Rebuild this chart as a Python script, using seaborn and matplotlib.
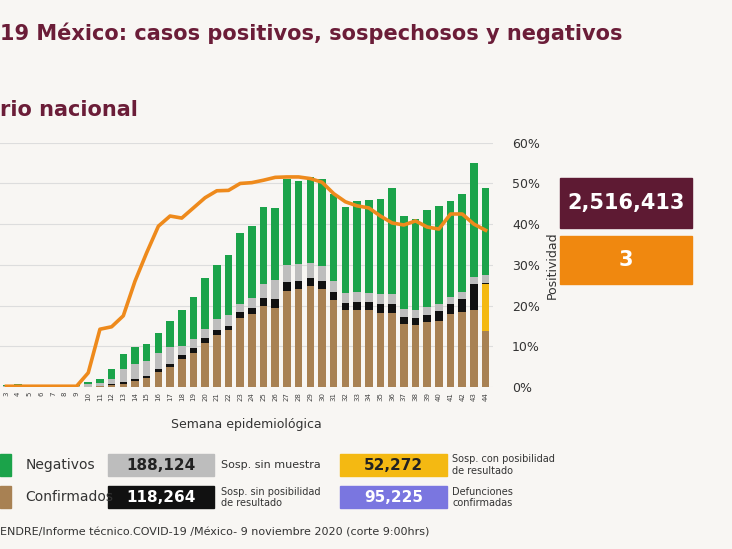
import numpy as np
import pandas as pd
import matplotlib
matplotlib.use("Agg")
import matplotlib.pyplot as plt
import seaborn as sns
from matplotlib.patches import Rectangle

# semanas epidemiologicas (cumulative stack tops, same scale as the % axis)
weeks = list(range(3, 45))
confirmados = [0.1]*7 + [0.1, 0.2, 0.5, 0.8, 1.5, 2.3, 3.7, 5.0, 6.8, 8.4, 10.9, 12.9, 13.9, 17.0,
               17.9, 19.9, 19.5, 23.6, 24.0, 24.7, 24.0, 21.3, 18.9, 19.0, 18.9, 18.2, 18.3, 15.6,
               15.2, 15.9, 16.2, 17.9, 18.5, 19.0, 13.8]
sosp_posib = [0.1]*7 + [0.1, 0.2, 0.5, 0.8, 1.5, 2.3, 3.7, 5.0, 6.8, 8.4, 10.9, 12.9, 13.9, 17.0,
              17.9, 19.9, 19.5, 23.6, 24.0, 24.7, 24.0, 21.3, 18.9, 19.0, 18.9, 18.2, 18.3, 15.6,
              15.2, 15.9, 16.2, 17.9, 18.5, 19.0, 25.2]
sin_posib = [0.1]*7 + [0.1, 0.3, 0.8, 1.2, 2.0, 2.8, 4.4, 5.7, 7.8, 9.5, 12.0, 13.9, 14.9, 18.5,
             19.4, 21.9, 21.7, 25.7, 26.0, 26.7, 26.0, 23.4, 20.7, 20.8, 20.8, 20.3, 20.4, 17.2,
             17.0, 17.7, 18.6, 20.5, 21.6, 25.3, 25.6]
sin_muestra = [0.2]*7 + [0.8, 1.0, 2.0, 4.4, 5.6, 6.3, 8.3, 9.8, 10.0, 11.7, 14.3, 16.6, 17.6, 20.4,
               21.8, 25.4, 26.3, 30.0, 30.2, 30.5, 29.7, 26.1, 23.2, 23.4, 23.2, 22.8, 22.9, 19.1,
               18.9, 19.6, 20.3, 22.2, 23.3, 27.0, 27.4]
negativos = [0.6, 0.7, 0.6, 0.6, 0.6, 0.6, 0.6, 1.2, 2.0, 4.4, 8.1, 9.9, 10.5, 13.3, 16.3, 19.0,
             22.1, 26.8, 30.0, 32.4, 37.8, 39.5, 44.2, 43.9, 51.0, 50.7, 51.5, 51.2, 47.5, 44.2,
             45.7, 46.0, 46.2, 48.9, 41.9, 41.3, 43.6, 44.5, 45.6, 47.5, 55.0, 49.0]
positividad = [0.2]*7 + [3.5, 14.2, 14.8, 17.5, 26, 33, 39.5, 42, 41.5, 44, 46.5, 48.2, 48.3, 50,
               50.2, 50.8, 51.5, 51.6, 51.6, 51.2, 50.3, 47.5, 45.5, 44.5, 44, 42, 40.3, 39.8,
               40.8, 39.3, 38.8, 42.5, 42.5, 40, 38.5]

df = pd.DataFrame({"semana": [str(w) for w in weeks], "neg": negativos, "sm": sin_muestra,
                   "sp": sin_posib, "yp": sosp_posib, "conf": confirmados, "pos": positividad})

bg = "#f8f6f3"
maroon = "#6b1d38"
fig = plt.figure(figsize=(7.32, 5.49), dpi=100, facecolor=bg)
ax = fig.add_axes([0.0, 0.295, 0.673, 0.445], facecolor=bg)

layers = [("neg", "#1ba34a"), ("sm", "#bdbdbd"), ("sp", "#111111"), ("yp", "#f4b912"), ("conf", "#a88153")]
for col, c in layers:
    sns.barplot(data=df, x="semana", y=col, color=c, width=0.65, saturation=1, ax=ax)
sns.lineplot(x=np.arange(len(weeks)), y=df["pos"], color="#ee8a1c", linewidth=2.6, ax=ax)

ax.set_xlim(-0.55, len(weeks) - 0.4)
ax.set_ylim(0, 60)
ax.yaxis.tick_right()
ax.yaxis.set_label_position("right")
ax.set_yticks(range(0, 61, 10))
ax.set_yticklabels([f"{v}%" for v in range(0, 61, 10)], fontsize=9, color="#333333")
ax.set_ylabel("Positividad", fontsize=9, color="#333333", labelpad=4)
ax.tick_params(axis="x", labelsize=5, rotation=90, length=0, colors="#444444")
ax.tick_params(axis="y", length=0, pad=14)
ax.set_xlabel("Semana epidemiológica", fontsize=9, color="#333333", labelpad=12)
ax.grid(axis="y", color="#dddddd", linewidth=0.8)
ax.set_axisbelow(True)
for s in ax.spines.values():
    s.set_visible(False)

fig.text(0.0, 0.94, "19 México: casos positivos, sospechosos y negativos", fontsize=15,
         fontweight="bold", color=maroon, va="center")
fig.text(0.0, 0.80, "rio nacional", fontsize=15, fontweight="bold", color=maroon, va="center")

# right side boxes
fig.patches.append(Rectangle((0.765, 0.585), 0.18, 0.09, transform=fig.transFigure, color="#5e1a33"))
fig.text(0.855, 0.63, "2,516,413", fontsize=15, fontweight="bold", color="white", ha="center", va="center")
fig.patches.append(Rectangle((0.765, 0.482), 0.18, 0.088, transform=fig.transFigure, color="#f0880f"))
fig.text(0.855, 0.526, "3", fontsize=15, fontweight="bold", color="white", ha="center", va="center")

# legend
def box(x, y, w, color, txt, tc):
    fig.patches.append(Rectangle((x, y - 0.02), w, 0.04, transform=fig.transFigure, color=color))
    fig.text(x + w / 2, y, txt, fontsize=11, fontweight="bold", color=tc, ha="center", va="center")

fig.patches.append(Rectangle((0.0, 0.133), 0.015, 0.04, transform=fig.transFigure, color="#1ba34a"))
fig.text(0.035, 0.153, "Negativos", fontsize=10, color="#333333", va="center")
fig.patches.append(Rectangle((0.0, 0.074), 0.015, 0.04, transform=fig.transFigure, color="#a88153"))
fig.text(0.035, 0.094, "Confirmados", fontsize=10, color="#333333", va="center")
box(0.148, 0.153, 0.145, "#bdbdbd", "188,124", "#222222")
box(0.148, 0.094, 0.145, "#111111", "118,264", "white")
fig.text(0.302, 0.153, "Sosp. sin muestra", fontsize=8, color="#333333", va="center")
fig.text(0.302, 0.094, "Sosp. sin posibilidad\nde resultado", fontsize=7, color="#333333", va="center")
box(0.465, 0.153, 0.145, "#f4b912", "52,272", "#222222")
box(0.465, 0.094, 0.145, "#7a76e0", "95,225", "white")
fig.text(0.618, 0.153, "Sosp. con posibilidad\nde resultado", fontsize=7, color="#333333", va="center")
fig.text(0.618, 0.094, "Defunciones\nconfirmadas", fontsize=7, color="#333333", va="center")

fig.text(0.0, 0.03, "ENDRE/Informe técnico.COVID-19 /México- 9 noviembre 2020 (corte 9:00hrs)",
         fontsize=8, color="#333333", va="center")

fig.savefig("out.png", dpi=100, facecolor=bg)
